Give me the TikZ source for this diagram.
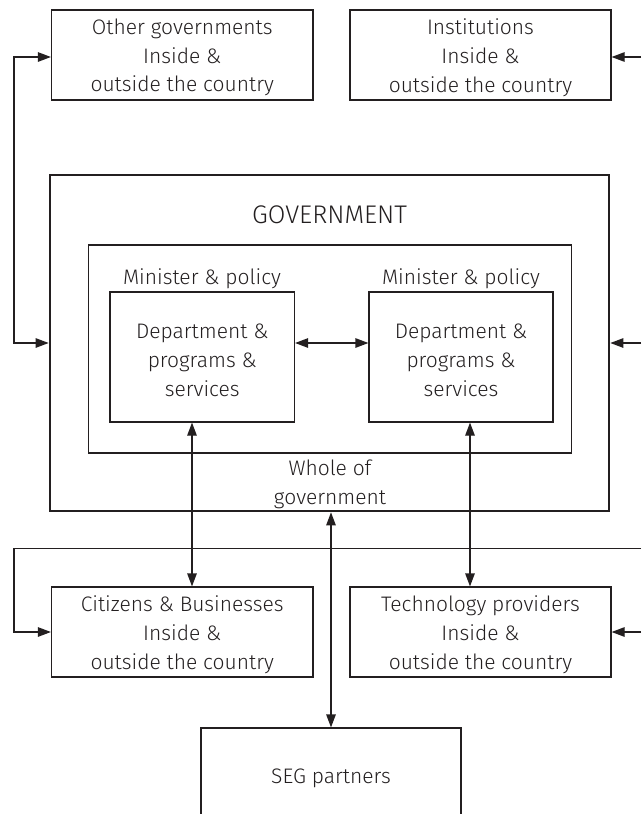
\documentclass[tikz,border=0pt]{standalone}
\usepackage{fontspec}
\setmainfont{Fira Sans Light}
\usetikzlibrary{arrows.meta}
\definecolor{ink}{HTML}{231F20}
\begin{document}
\begin{tikzpicture}[x=1pt,y=-1pt,
  every node/.style={inner sep=0pt},
  txt/.style={font=\fontsize{21}{28.8}\selectfont, text=ink, align=center, yshift=-2.5pt},
  box/.style={draw=ink, line width=1.2pt},
  frame/.style={draw=ink, line width=2.7pt},
  link/.style={draw=ink, line width=1.2pt},
  tip/.style={-{Triangle[length=13pt,width=9.5pt]}},
  both/.style={{Triangle[length=13pt,width=9.5pt]}-{Triangle[length=13pt,width=9.5pt]}}]
\useasboundingbox (0,0) rectangle (641,814);
\clip (0,0) rectangle (641,814);

% partner boxes above
\node[box, minimum width=261.5pt, minimum height=90pt] (og) at (182.25,55) {};
\node[txt] (ogtext) at (og.center) {Other governments\\Inside \&\\outside the country};
\node[box, minimum width=261pt, minimum height=90pt] (inst) at (480.5,55) {};
\node[txt] (insttext) at (inst.center) {Institutions\\Inside \&\\outside the country};

% government frame and whole-of-government box
\node[frame, minimum width=559pt, minimum height=336pt] (gov) at (329.5,343) {};
\node[box, minimum width=483pt, minimum height=208pt] (wbox) at (330,349) {};
\node[txt, font=\fontsize{25.5}{30}\selectfont] (gtitle) at (329.5,212) {GOVERNMENT};
\node[txt] (min1) at (202,276) {Minister \& policy};
\node[txt] (min2) at (461,276) {Minister \& policy};
\node[box, minimum width=184.5pt, minimum height=130pt] (dep1) at (202.25,357) {};
\node[txt] (dep1text) at ([yshift=-1pt]dep1.center) {Department \&\\programs \&\\services};
\node[box, minimum width=184pt, minimum height=130pt] (dep2) at (461,357) {};
\node[txt] (dep2text) at ([yshift=-1pt]dep2.center) {Department \&\\programs \&\\services};
\node[txt] (wog) at (330,481.5) {Whole of\\government};

% partner boxes below
\node[box, minimum width=261.5pt, minimum height=90pt] (cit) at (182.25,632) {};
\node[txt] (cittext) at (cit.center) {Citizens \& Businesses\\Inside \&\\outside the country};
\node[box, minimum width=261pt, minimum height=90pt] (tech) at (480.5,632) {};
\node[txt] (techtext) at (tech.center) {Technology providers\\Inside \&\\outside the country};
\node[box, minimum width=260pt, minimum height=96pt] (seg) at (331,776) {};
\node[txt] (segtext) at (seg.center) {SEG partners};

% rails and columns
\coordinate (lrail) at (14,0);
\coordinate (redge) at (641,0);
\coordinate (brail) at (0,548.5);
\coordinate (c1) at (192,0);
\coordinate (c2) at (470,0);

% connectors
\draw[link, both] ([yshift=-2pt]og.west) -- ([yshift=-2pt]og.west -| lrail) |- (gov.west);
\draw[link, tip] ([yshift=-2pt]inst.east -| redge) -- ([yshift=-2pt]inst.east);
\draw[link, tip] (gov.east -| redge) -- (gov.east);
\draw[link, both] (dep1.east |- gov.west) -- (dep2.west |- gov.west);
\draw[link, tip] (brail -| redge) -- (brail -| lrail) |- (cit.west);
\draw[link, tip] (tech.east -| redge) -- (tech.east);
\draw[link, both] (dep1.south -| c1) -- (cit.north -| c1);
\draw[link, both] (dep2.south -| c2) -- (tech.north -| c2);
\draw[link, both] (gov.south -| seg.north) -- (seg.north);
\end{tikzpicture}
\end{document}
